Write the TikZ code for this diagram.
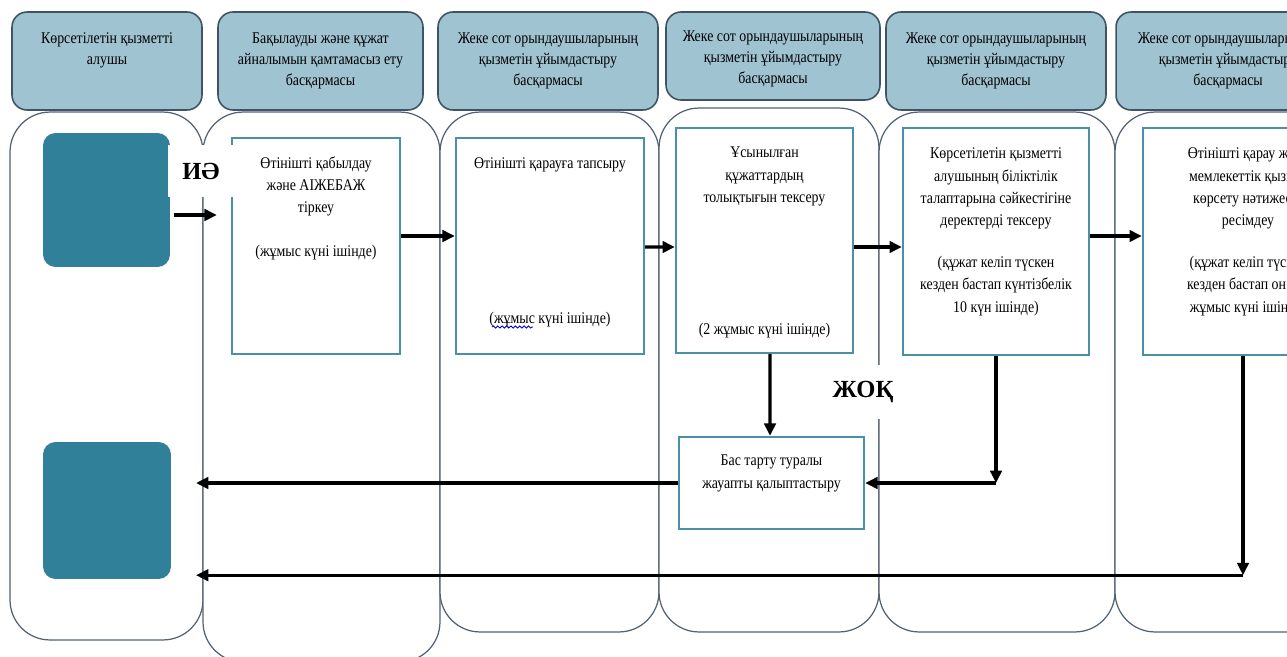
\documentclass[tikz,border=0pt]{standalone}
\usepackage{fontspec}
\setmainfont{Liberation Serif}[FakeStretch=0.85]
\newfontfamily\lblfont{Liberation Serif}
\usetikzlibrary{arrows.meta,calc,decorations.pathmorphing}

\definecolor{hdrfill}{RGB}{160,195,210}
\definecolor{hdrline}{RGB}{62,84,102}
\definecolor{laneline}{RGB}{80,98,115}
\definecolor{tealfill}{RGB}{48,128,153}
\definecolor{boxline}{RGB}{75,145,165}

\newcommand\tbox[4]{\parbox[c][#2][t]{#1}{\centering\vspace*{#3}#4\par}}

\tikzset{
  hdr/.style={draw=hdrline, fill=hdrfill, line width=0.9pt, rounded corners=0.3cm, inner sep=0pt, font=\fontsize{9.3}{11.9}\selectfont},
  lane/.style={draw=laneline, line width=0.7pt, rounded corners=0.8cm, fill=white, inner sep=0pt},
  tealbox/.style={fill=tealfill, rounded corners=0.25cm, inner sep=0pt},
  pbox/.style={draw=boxline, line width=1.4pt, fill=white, inner sep=0pt, font=\fontsize{9.3}{12.7}\selectfont},
  arr/.style={line width=1.8pt, -{Triangle[length=7pt,width=6.5pt]}},
  lbl/.style={fill=white, inner sep=0pt, font=\lblfont\fontsize{14}{16}\selectfont\bfseries}
}

\begin{document}
\begin{tikzpicture}[x=0.02cm, y=-0.02cm]
\clip (0,0) rectangle (1287,656);
\fill[white] (0,0) rectangle (1287,656);

% lanes
\node[lane, minimum width=3.86cm, minimum height=10.56cm] (L1) at (106.5,376) {};
\node[lane, minimum width=4.74cm, minimum height=11.0cm] (L2) at (321.5,387) {};
\node[lane, minimum width=4.38cm, minimum height=10.4cm] (L3) at (549.5,372) {};
\node[lane, minimum width=4.4cm, minimum height=10.48cm] (L4) at (769,370) {};
\node[lane, minimum width=4.72cm, minimum height=10.4cm] (L5) at (997,372) {};
\node[lane, minimum width=4.9cm, minimum height=10.4cm] (L6) at (1237.5,372) {};

% headers
\node[hdr] (H1) at (107,61) {\tbox{3.8cm}{1.96cm}{0.42cm}{Көрсетілетін қызметті\\ алушы}};
\node[hdr] (H2) at (320.5,61) {\tbox{4.1cm}{1.96cm}{0.42cm}{Бақылауды және құжат\\ айналымын қамтамасыз ету\\ басқармасы}};
\node[hdr] (H3) at (548,61) {\tbox{4.4cm}{1.96cm}{0.42cm}{Жеке сот орындаушыларының\\ қызметін ұйымдастыру\\ басқармасы}};
\node[hdr] (H4) at (773,56) {\tbox{4.28cm}{1.76cm}{0.38cm}{Жеке сот орындаушыларының\\ қызметін ұйымдастыру\\ басқармасы}};
\node[hdr] (H5) at (996,61) {\tbox{4.4cm}{1.96cm}{0.42cm}{Жеке сот орындаушыларының\\ қызметін ұйымдастыру\\ басқармасы}};
\node[hdr] (H6) at (1228,61) {\tbox{4.48cm}{1.96cm}{0.42cm}{Жеке сот орындаушыларының\\ қызметін ұйымдастыру\\ басқармасы}};

% service recipient boxes
\node[tealbox, minimum width=2.54cm, minimum height=2.68cm] (TA) at (106.5,200) {};
\node[tealbox, minimum width=2.56cm, minimum height=2.74cm] (TB) at (107,510.5) {};

% process boxes
\node[pbox] (P1) at (316,246) {\tbox{3.36cm}{4.32cm}{0.37cm}{Өтінішті қабылдау\\ және АІЖЕБАЖ\\ тіркеу\\[12pt] (жұмыс күні ішінде)}};
\node[pbox] (P2) at (550,246) {\tbox{3.76cm}{4.32cm}{0.39cm}{Өтінішті қарауға тапсыру\\[2.66cm] (жұмыс күні ішінде)}};
\node[pbox] (P3) at (764.5,240.5) {\tbox{3.54cm}{4.5cm}{0.38cm}{Ұсынылған\\ құжаттардың\\ толықтығын тексеру\\[2.2cm] (2 жұмыс күні ішінде)}};
\node[pbox] (P4) at (996,241.5) {\tbox{3.72cm}{4.54cm}{0.4cm}{Көрсетілетін қызметті\\ алушының біліктілік\\ талаптарына сәйкестігіне\\ деректерді тексеру\\[11pt] (құжат келіп түскен\\ кезден бастап күнтізбелік\\ 10 күн ішінде)}};
\node[pbox] (P5) at (1248,241.5) {\tbox{4.2cm}{4.54cm}{0.4cm}{Өтінішті қарау және\\ мемлекеттік қызмет\\ көрсету нәтижесін\\ ресімдеу\\[11pt] (құжат келіп түскен\\ кезден бастап он бес\\ жұмыс күні ішінде)}};
\node[pbox] (P6) at (771.5,483) {\tbox{3.7cm}{1.84cm}{0.36cm}{Бас тарту туралы\\ жауапты қалыптастыру}};

% spell-check underline
\draw[blue!75!black, line width=0.5pt, decorate, decoration={snake, amplitude=0.6pt, segment length=2.5pt}] (492,327) -- (533,327);

% labels
\node[lbl, minimum width=1.32cm, minimum height=1.04cm] (yes) at (201,171) {ИӘ};
\node[lbl, minimum width=1.1cm, minimum height=1.08cm] (no) at (863,392) {ЖОҚ};

% connectors
\coordinate (e1) at (196,483.5);
\draw[arr] ($(TA.east)+(4,15)$) -- ($(P1.west)+(-14,-31)$);
\draw[arr] ($(P1.east)+(0,-10)$) -- ($(P2.west)+(0,-10)$);
\draw[arr] ($(P2.east)+(0,1)$) -- ($(P3.west)+(0,6.5)$);
\draw[arr] ($(P3.east)+(0,6.5)$) -- ($(P4.west)+(0,5.5)$);
\draw[arr] ($(P4.east)+(0,-5.5)$) -- ($(P5.west)+(0,-5.5)$);
\draw[arr] ($(P3.south)+(5.5,0)$) -- ($(P6.north)+(-1.5,0)$);
\coordinate (k1) at (P4.south |- P6.east);
\draw[arr] (P4.south) -- (k1);
\draw[arr] (k1) -- (P6.east);
\draw[arr] (P6.west) -- (e1 |- P6.west);
\coordinate (k2) at ($(P5.south)+(-5,219)$);
\draw[arr] ($(P5.south)+(-5,0)$) -- (k2);
\draw[arr] (k2) -- (e1 |- k2);
\end{tikzpicture}
\end{document}
